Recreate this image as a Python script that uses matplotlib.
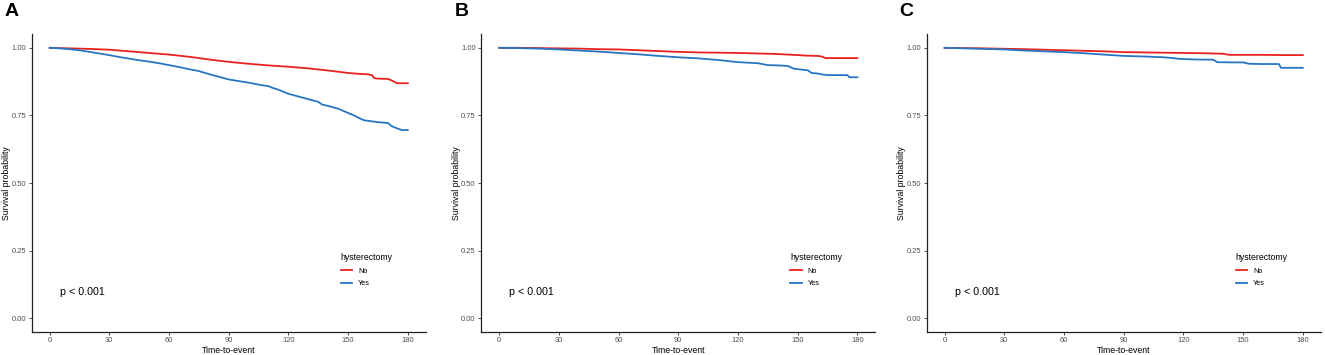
import matplotlib
matplotlib.use("Agg")
import matplotlib.pyplot as plt

plt.rcParams['font.family'] = ['Liberation Sans', 'DejaVu Sans']

panel_labels = ["A", "B", "C"]
group_labels = ["No", "Yes"]
legend_title = "hysterectomy"
pval_text = "p < 0.001"
x_ticks = [0, 30, 60, 90, 120, 150, 180]
y_ticks = [0.00, 0.25, 0.50, 0.75, 1.00]

# Panel A
a_no_t = [0, 5, 10, 20, 30, 40, 50, 60, 70, 80, 90, 100, 110, 120, 130, 140, 150, 155, 160, 162, 163, 165, 170, 172, 174, 175, 180]
a_no_s = [1.0, 0.999, 0.998, 0.996, 0.993, 0.987, 0.981, 0.975, 0.967, 0.957, 0.948, 0.941, 0.935, 0.930, 0.924, 0.916, 0.907, 0.904, 0.902, 0.899, 0.888, 0.886, 0.885, 0.879, 0.871, 0.869, 0.869]
a_yes_t = [0, 5, 10, 15, 20, 25, 30, 35, 40, 45, 50, 55, 60, 65, 70, 75, 80, 85, 90, 95, 100, 105, 110, 112, 115, 120, 125, 130, 135, 137, 140, 145, 150, 153, 155, 158, 160, 165, 170, 172, 175, 177, 180]
a_yes_s = [1.0, 0.998, 0.995, 0.991, 0.985, 0.979, 0.973, 0.966, 0.960, 0.954, 0.949, 0.943, 0.936, 0.929, 0.921, 0.914, 0.903, 0.893, 0.883, 0.877, 0.871, 0.864, 0.858, 0.852, 0.845, 0.830, 0.820, 0.810, 0.800, 0.790, 0.785, 0.775, 0.759, 0.750, 0.742, 0.732, 0.730, 0.725, 0.722, 0.710, 0.701, 0.696, 0.696]

# Panel B
b_no_t = [0, 10, 20, 30, 40, 50, 60, 70, 80, 90, 100, 110, 120, 130, 140, 145, 150, 155, 160, 162, 164, 165, 180]
b_no_s = [1.0, 1.0, 0.999, 0.998, 0.997, 0.995, 0.994, 0.991, 0.988, 0.985, 0.983, 0.982, 0.981, 0.979, 0.977, 0.975, 0.973, 0.971, 0.970, 0.968, 0.962, 0.962, 0.962]
b_yes_t = [0, 10, 20, 30, 40, 50, 60, 70, 80, 90, 100, 105, 110, 115, 120, 125, 130, 135, 140, 145, 148, 150, 155, 157, 160, 162, 165, 170, 175, 176, 180]
b_yes_s = [1.0, 0.999, 0.997, 0.994, 0.990, 0.986, 0.981, 0.976, 0.970, 0.965, 0.961, 0.958, 0.955, 0.951, 0.947, 0.945, 0.943, 0.936, 0.935, 0.933, 0.923, 0.921, 0.917, 0.907, 0.905, 0.902, 0.899, 0.899, 0.899, 0.891, 0.891]

# Panel C
c_no_t = [0, 20, 40, 60, 80, 90, 100, 120, 130, 140, 143, 150, 160, 170, 180]
c_no_s = [1.0, 0.998, 0.995, 0.991, 0.987, 0.984, 0.983, 0.981, 0.980, 0.978, 0.974, 0.974, 0.974, 0.973, 0.973]
c_yes_t = [0, 10, 20, 30, 40, 50, 60, 70, 80, 90, 100, 110, 115, 118, 125, 135, 137, 145, 150, 153, 160, 168, 169, 175, 180]
c_yes_s = [1.0, 0.998, 0.996, 0.994, 0.990, 0.987, 0.984, 0.980, 0.975, 0.970, 0.968, 0.965, 0.962, 0.959, 0.957, 0.956, 0.947, 0.946, 0.946, 0.941, 0.940, 0.940, 0.926, 0.926, 0.926]

panels = [
    (a_no_t, a_no_s, a_yes_t, a_yes_s),
    (b_no_t, b_no_s, b_yes_t, b_yes_s),
    (c_no_t, c_no_s, c_yes_t, c_yes_s),
]

colors = ["#E8221F", "#2676C2"]

W, H = 1325, 355
fig = plt.figure(figsize=(W / 100, H / 100), dpi=100)
lefts_px = [31.7, 481.3, 926.7]
ax_w_px = 394
top_px, bot_px = 34.3, 331.7

for i, (tn, sn, ty, sy) in enumerate(panels):
    ax = fig.add_axes([lefts_px[i] / W, 1 - bot_px / H, ax_w_px / W, (bot_px - top_px) / H])
    ax.plot(tn, sn, color=colors[0], lw=1.3, label=group_labels[0])
    ax.plot(ty, sy, color=colors[1], lw=1.3, label=group_labels[1])
    ax.set_xlim(-9, 189)
    ax.set_ylim(-0.05, 1.05)
    ax.set_xticks(x_ticks)
    ax.set_yticks(y_ticks)
    ax.set_yticklabels([f"{v:.2f}" for v in y_ticks])
    ax.tick_params(axis="both", labelsize=5.4, labelcolor="#4D4D4D", color="#333333",
                   length=2.5, width=0.6, pad=1.5)
    for s in ["top", "right"]:
        ax.spines[s].set_visible(False)
    for s in ["left", "bottom"]:
        ax.spines[s].set_linewidth(0.9)
        ax.spines[s].set_color("#222222")
    ax.set_xlabel("Time-to-event", fontsize=6.3, labelpad=1)
    ax.set_ylabel("Survival probability", fontsize=6.3)
    ax.yaxis.set_label_coords(-0.052, 0.5)
    ax.text(5, 0.096, pval_text, fontsize=7.7, ha="left", va="center")
    ax.legend(title=legend_title, loc="upper left", bbox_to_anchor=(0.768, 0.285),
              frameon=False, fontsize=5.2, title_fontsize=6.3, handlelength=1.6,
              labelspacing=0.75, handletextpad=0.8, alignment="left")
    fig.text((lefts_px[i] - 27) / W, 1 - 3 / H, panel_labels[i], fontsize=14,
             fontweight="bold", ha="left", va="top")

fig.savefig("out.png", dpi=100)
